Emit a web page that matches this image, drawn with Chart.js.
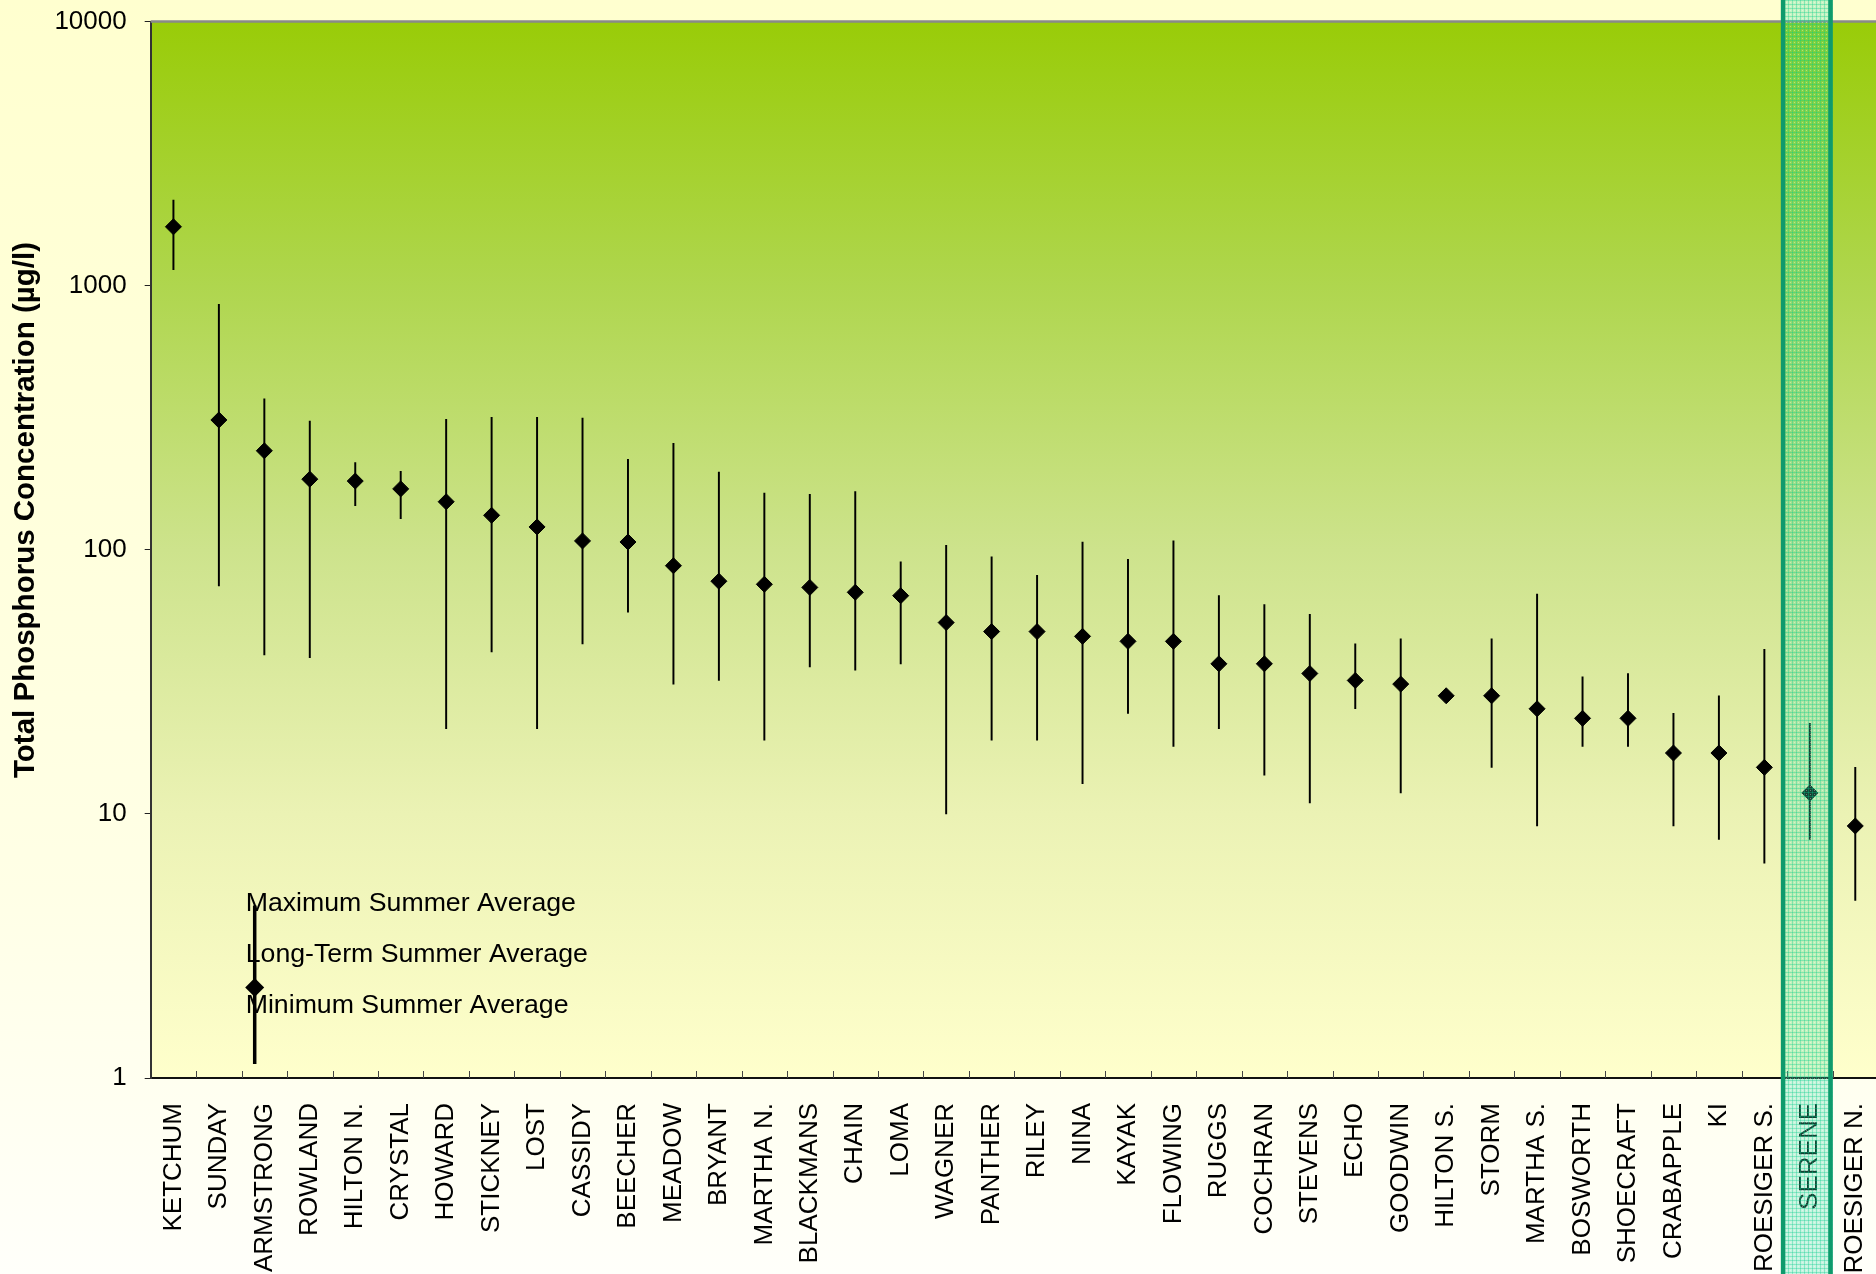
<!DOCTYPE html>
<html>
<head>
<meta charset="utf-8">
<title>Total Phosphorus Concentration</title>
<script src="https://cdn.jsdelivr.net/npm/chart.js@4.4.1/dist/chart.umd.min.js"></script>
<style>
  html, body { margin: 0; padding: 0; overflow: hidden; background: #fffff2; }
  #wrap { width: 1887px; height: 1274px; }
</style>
</head>
<body>
<div id="wrap"><canvas id="tpChart" width="1887" height="1274"></canvas></div>
<script>
// lakes, ranked by long-term summer average TP
const lakes = ['KETCHUM', 'SUNDAY', 'ARMSTRONG', 'ROWLAND', 'HILTON N.', 'CRYSTAL', 'HOWARD', 'STICKNEY',
  'LOST', 'CASSIDY', 'BEECHER', 'MEADOW', 'BRYANT', 'MARTHA N.', 'BLACKMANS', 'CHAIN', 'LOMA', 'WAGNER',
  'PANTHER', 'RILEY', 'NINA', 'KAYAK', 'FLOWING', 'RUGGS', 'COCHRAN', 'STEVENS', 'ECHO', 'GOODWIN',
  'HILTON S.', 'STORM', 'MARTHA S.', 'BOSWORTH', 'SHOECRAFT', 'CRABAPPLE', 'KI', 'ROESIGER S.',
  'SERENE', 'ROESIGER N.'];

// summer averages, ug/l (HILTON S. has a single year, no range)
const meanTP = [1670, 310, 237, 185, 182, 170, 152, 135, 122, 108, 107, 87, 76, 74, 72, 69, 67, 53,
  49, 49, 47, 45, 45, 37, 37, 34, 32, 31, 28, 28, 25, 23, 23, 17, 17, 15, 12, 9];
const maxTP = [2110, 850, 373, 307, 214, 198, 312, 317, 317, 315, 220, 253, 197, 164, 162, 166, 90, 104,
  94, 80, 107, 92, 108, 67, 62, 57, 44, 46, null, 46, 68, 33, 34, 24, 28, 42, 22, 15];
const minTP = [1148, 73, 40, 39, 147, 131, 21, 41, 21, 44, 58, 31, 32, 19, 36, 35, 37, 10,
  19, 19, 13, 24, 18, 21, 14, 11, 25, 12, null, 15, 9, 18, 18, 9, 8, 6.5, 8, 4.7];

const yTicks = [1, 10, 100, 1000, 10000];
const highlightLake = 'SERENE';

// key in the lower left corner: max / mean / min sample
const keyLabels = ['Maximum Summer Average', 'Long-Term Summer Average', 'Minimum Summer Average'];
const keySample = [4.5, 2.2, 1.13];

const FONT = '"Liberation Sans", Arial, sans-serif';

// little hatched fill for the highlighted lake
const hatch = (() => {
  const c = document.createElement('canvas');
  c.width = 4; c.height = 4;
  const p = c.getContext('2d');
  p.fillStyle = 'rgba(70,220,170,0.30)';
  p.fillRect(0, 0, 4, 4);
  p.fillStyle = 'rgba(0,205,140,0.32)';
  p.fillRect(0, 0, 4, 1);
  p.fillRect(0, 0, 1, 4);
  p.fillStyle = 'rgba(255,255,255,0.35)';
  p.fillRect(2, 2, 1, 1);
  return c;
})();

const backdrop = {
  id: 'backdrop',
  beforeDraw(chart) {
    const {ctx, chartArea: a, width, height} = chart;
    ctx.save();
    let g = ctx.createLinearGradient(0, 0, 0, height);
    g.addColorStop(0, '#ffffcf');
    g.addColorStop(0.7, '#ffffe6');
    g.addColorStop(1, '#fffffa');
    ctx.fillStyle = g;
    ctx.fillRect(0, 0, width, height);

    g = ctx.createLinearGradient(0, a.top, 0, a.bottom);
    g.addColorStop(0, '#99cc08');
    g.addColorStop(0.25, '#afd64e');
    g.addColorStop(0.5, '#cde38c');
    g.addColorStop(0.75, '#ebf2b4');
    g.addColorStop(1, '#ffffcc');
    ctx.fillStyle = g;
    ctx.fillRect(a.left, a.top, a.right - a.left, a.bottom - a.top);
    ctx.restore();
  }
};

const decorations = {
  id: 'decorations',
  afterDatasetsDraw(chart) {
    const {ctx, chartArea: a, scales: {x, y}} = chart;
    const half = (x.getPixelForValue(1) - x.getPixelForValue(0)) / 2;
    ctx.save();
    // top frame line
    ctx.strokeStyle = '#8a8a8a';
    ctx.lineWidth = 2.5;
    ctx.beginPath();
    ctx.moveTo(a.left, a.top);
    ctx.lineTo(a.right, a.top);
    ctx.stroke();

    // inward tick marks between lakes
    ctx.strokeStyle = '#444';
    ctx.lineWidth = 1;
    for (let i = 1; i < lakes.length; i++) {
      const px = Math.round(x.getPixelForValue(i) - half) + 0.5;
      ctx.beginPath();
      ctx.moveTo(px, a.bottom);
      ctx.lineTo(px, a.bottom - 7);
      ctx.stroke();
    }

    // key
    const kx = a.left + 104;
    ctx.strokeStyle = '#000';
    ctx.lineWidth = 3.5;
    ctx.beginPath();
    ctx.moveTo(kx, y.getPixelForValue(keySample[0]));
    ctx.lineTo(kx, y.getPixelForValue(keySample[2]));
    ctx.stroke();
    const ky = y.getPixelForValue(keySample[1]);
    ctx.fillStyle = '#000';
    ctx.beginPath();
    ctx.moveTo(kx - 9.5, ky);
    ctx.lineTo(kx, ky - 9.5);
    ctx.lineTo(kx + 9.5, ky);
    ctx.lineTo(kx, ky + 9.5);
    ctx.closePath();
    ctx.fill();

    ctx.font = '26.7px ' + FONT;
    ctx.textAlign = 'left';
    ctx.textBaseline = 'middle';
    keyLabels.forEach((t, i) => {
      ctx.fillText(t, a.left + 95, a.bottom - 174 + i * 51);
    });

    // axis title
    ctx.translate(26, a.top + (a.bottom - a.top) * 0.4624);
    ctx.rotate(-Math.PI / 2);
    ctx.font = 'bold 29.5px ' + FONT;
    ctx.textAlign = 'center';
    ctx.fillText('Total Phosphorus Concentration (µg/l)', 0, 0);
    ctx.restore();
  },
  afterDraw(chart) {
    // highlighted lake band, full height, over everything
    const {ctx, height, scales: {x}} = chart;
    const idx = lakes.indexOf(highlightLake);
    const half = (x.getPixelForValue(1) - x.getPixelForValue(0)) / 2;
    const left = x.getPixelForValue(idx) - half - 6;
    const right = x.getPixelForValue(idx) + half;
    ctx.save();
    ctx.fillStyle = ctx.createPattern(hatch, 'repeat');
    ctx.fillRect(left, 0, right - left, height);
    ctx.strokeStyle = '#0f9a6c';
    ctx.lineWidth = 4.5;
    ctx.beginPath();
    ctx.moveTo(left + 2, 0);
    ctx.lineTo(left + 2, height);
    ctx.moveTo(right - 2, 0);
    ctx.lineTo(right - 2, height);
    ctx.stroke();
    ctx.restore();
  }
};

const ranges = minTP.map((lo, i) => (lo == null ? null : [lo, maxTP[i]]));

new Chart(document.getElementById('tpChart'), {
  data: {
    labels: lakes,
    datasets: [
      {
        type: 'line',
        label: 'Long-Term Summer Average',
        data: meanTP,
        showLine: false,
        pointStyle: 'rectRot',
        pointRadius: 8,
        pointBorderWidth: 1,
        pointBackgroundColor: '#000',
        pointBorderColor: '#000',
        order: 0
      },
      {
        type: 'bar',
        label: 'Summer Average Range',
        data: ranges,
        backgroundColor: '#000',
        borderWidth: 0,
        barThickness: 1.3,
        order: 1
      }
    ]
  },
  options: {
    responsive: false,
    animation: false,
    devicePixelRatio: 1,
    layout: { padding: { top: 21.5, left: 0, right: 0, bottom: 0 } },
    plugins: {
      legend: { display: false },
      tooltip: { enabled: false }
    },
    scales: {
      x: {
        type: 'category',
        offset: true,
        grid: { display: false, drawTicks: false },
        border: { display: true, color: '#111', width: 2 },
        ticks: {
          autoSkip: false,
          minRotation: 90,
          maxRotation: 90,
          padding: 25,
          color: '#000',
          font: { family: FONT, size: 26 }
        },
        afterFit(scale) {
          scale.height = 196;
          scale.paddingLeft = 0;
          scale.paddingRight = 0;
        }
      },
      y: {
        type: 'logarithmic',
        position: 'left',
        min: 1,
        max: 10000,
        grid: { drawOnChartArea: false, drawTicks: true, tickLength: 6, color: '#222' },
        border: { display: true, color: '#333', width: 2 },
        ticks: {
          padding: 18,
          color: '#000',
          font: { family: FONT, size: 26 },
          callback: v => String(v)
        },
        afterBuildTicks(scale) {
          scale.ticks = yTicks.map(v => ({ value: v }));
        },
        afterFit(scale) {
          scale.width = 150.7;
          scale.paddingTop = 0;
          scale.paddingBottom = 0;
        }
      }
    }
  },
  plugins: [backdrop, decorations]
});
</script>
</body>
</html>
